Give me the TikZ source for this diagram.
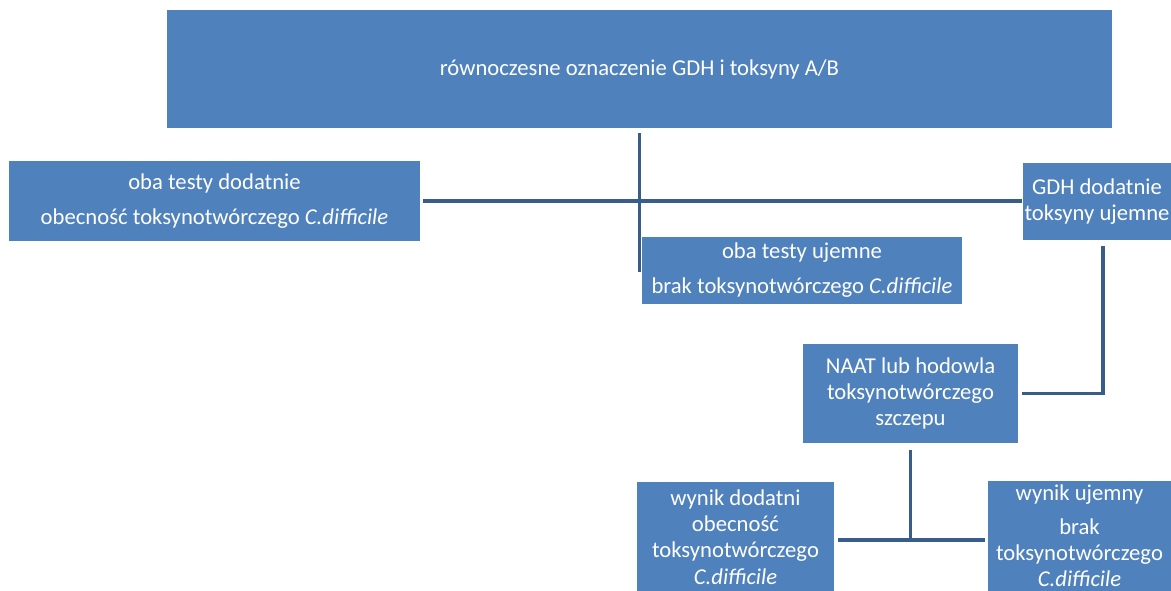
\documentclass[tikz,border=0pt]{standalone}
\usepackage{fontspec}
\setmainfont{Carlito}
\usepackage{tikz}
\usetikzlibrary{positioning, calc}

\definecolor{boxblue}{HTML}{4F81BD}
\definecolor{lineblue}{HTML}{385D8A}

\begin{document}
\begin{tikzpicture}[x=0.02cm, y=-0.02cm, every node/.style={align=center, font=\fontsize{12.9}{15}\selectfont, text=white},
    box/.style={fill=boxblue, draw=none, inner sep=0pt},
    link/.style={draw=lineblue, line width=2.1pt}]
        \useasboundingbox (0,0) rectangle (1171,591);
        \clip (0,0) rectangle (1171,591);

        \node (top) [box, minimum width=18.9cm, minimum height=2.36cm] at (639.5,69) {równoczesne oznaczenie GDH i toksyny A/B};
        \node (both) [box, minimum width=8.22cm, minimum height=1.6cm] at (214.5,201) {oba testy dodatnie\\[5pt] obecność toksynotwórczego \textit{C.difficile}};
        \node (neg) [box, minimum width=6.4cm, minimum height=1.34cm] at (802,270.5) {oba testy ujemne\\[5pt] brak toksynotwórczego \textit{C.difficile}};
        \node (gdh) [box, minimum width=2.96cm, minimum height=1.54cm] at (1097,201.5) {GDH dodatnie\\ toksyny ujemne};
        \node (naat) [box, minimum width=4.3cm, minimum height=1.98cm] at (910.5,393.5) {NAAT lub hodowla\\ toksynotwórczego\\ szczepu};
        \node (pos) [box, minimum width=3.94cm, minimum height=2.2cm] at (735.5,537) {wynik dodatni\\ obecność\\ toksynotwórczego\\ \textit{C.difficile}};
        \node (res) [box, minimum width=3.66cm, minimum height=2.2cm] at (1079.5,536) {wynik ujemny\\[4pt] brak\\ toksynotwórczego\\ \textit{C.difficile}};

        \coordinate (vend) at (639,272);
        \coordinate (split) at (912,540);

        \draw[link, shorten <=0.1cm] (top.south) -- (top.south |- vend);
        \draw[link, shorten <=0.06cm, shorten >=0.02cm] (both.east) -- (both.east -| gdh.west);
        \draw[link, shorten <=0.12cm, shorten >=0.08cm] (gdh.south -| 1103,0) |- (naat.east);
        \draw[link, shorten <=0.14cm] (naat.south) -- (naat.south |- split);
        \draw[link, shorten <=0.08cm, shorten >=0.06cm] (pos.east |- split) -- (split -| res.west);
    \end{tikzpicture}
\end{document}
